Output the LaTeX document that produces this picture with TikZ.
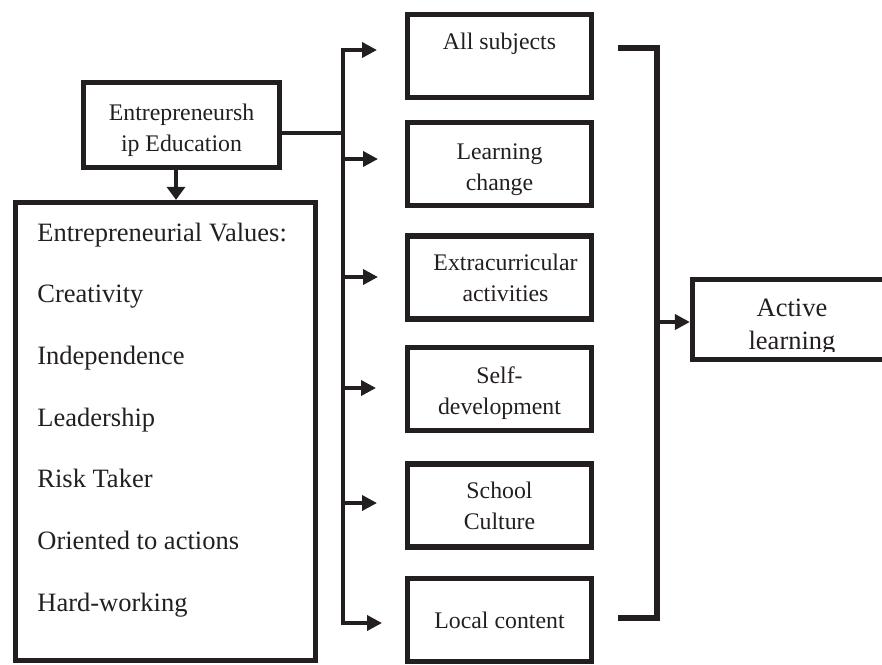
\documentclass[tikz,border=0pt]{standalone}
\usepackage{fontspec}
\setmainfont{Liberation Serif}
\usetikzlibrary{arrows.meta}
\definecolor{ink}{RGB}{35,31,32}
\begin{document}
\begin{tikzpicture}[x=0.5pt,y=-0.5pt,
  box/.style={draw=ink, line width=2.6pt, inner sep=0pt, align=center,
    font=\fontsize{11.9}{15.5}\selectfont, text=ink},
  rbox/.style={box, minimum width=92pt, minimum height=41.5pt},
  conn/.style={draw=ink, line width=1.8pt},
  bracket/.style={draw=ink, line width=2.8pt},
  tri/.tip={Triangle[length=7.5pt,width=7.5pt]},
  val/.style={anchor=base west, inner sep=0pt, text=ink,
    font=\fontsize{13.25}{16.5}\selectfont}]
\useasboundingbox (0,0) rectangle (882,664);
\clip (0,0) rectangle (882,664);

% boxes
\node[box, minimum width=98pt, minimum height=42.5pt] (ee) at (181.5,125) {\rule{0pt}{14pt}Entrepreneursh\\ip Education};
\node[box, minimum width=150pt, minimum height=229pt] (vals) at (165.5,431.5) {};
\node[rbox] (s1) at (499.5,56)  {\rule{0pt}{15pt}All subjects\\[1pt]\strut};
\node[rbox] (s2) at (499.5,164) {\rule{0pt}{14pt}Learning\\change};
\node[rbox] (s3) at (499.5,277.5) {\hspace*{6pt}Extracurricular\\\hspace*{6pt}activities};
\node[rbox] (s4) at (499.5,389) {\rule{0pt}{13pt}Self-\\development};
\node[rbox] (s5) at (499.5,505.5) {School\\Culture};
\node[rbox] (s6) at (499.5,620) {Local content};
\node[box, minimum width=120pt, minimum height=40pt] (al) at (812.5,319.5) {};
\begin{scope}
  \clip (690,270) rectangle (882,351);
  \node[inner sep=0pt, align=center, text=ink,
    font=\fontsize{13.25}{16.5}\selectfont] (altext) at (792,327) {Active\\learning};
\end{scope}

% values text
\node[val] (v0) at (37,241) {Entrepreneurial Values:};
\node[val] (v1) at (37,302) {Creativity};
\node[val] (v2) at (37,364) {Independence};
\node[val] (v3) at (37,426) {Leadership};
\node[val] (v4) at (37,487) {Risk Taker};
\node[val] (v5) at (37,549) {Oriented to actions};
\node[val] (v6) at (37,611) {Hard-working};

% trunk coordinates
\coordinate (t1) at (343,50);
\coordinate (t2) at (343,159);
\coordinate (t3) at (343,277);
\coordinate (t4) at (343,388);
\coordinate (t5) at (343,503);
\coordinate (t6) at (343,623);
\coordinate (a1) at (377,50);
\coordinate (a2) at (378,159);
\coordinate (a3) at (378,277);
\coordinate (a4) at (376,388);
\coordinate (a5) at (377,503);
\coordinate (a6) at (382,623);
\coordinate (tj) at (343,133);

\draw[conn] ([yshift=-4pt]ee.east) -- (tj);
\draw[conn, {tri}-{tri}] (a1) -- (t1) -- (t6) -- (a6);
\draw[conn, -{tri}] (t2) -- (a2);
\draw[conn, -{tri}] (t3) -- (a3);
\draw[conn, -{tri}] (t4) -- (a4);
\draw[conn, -{tri}] (t5) -- (a5);

% down arrow
\coordinate (d1) at (176,169);
\draw[conn, -{Triangle[length=6.5pt,width=9pt]}] (d1) -- (d1 |- vals.north);

% right bracket
\coordinate (r1) at (618,48);
\coordinate (r2) at (657,48);
\coordinate (r3) at (657,618);
\coordinate (r4) at (618,618);
\coordinate (r5) at (657,322);
\draw[bracket] (r1) -- (r2) -- (r3) -- (r4);
\draw[conn, line width=2.4pt, -{tri}] (r5) -- (r5 -| al.west);
\end{tikzpicture}
\end{document}
